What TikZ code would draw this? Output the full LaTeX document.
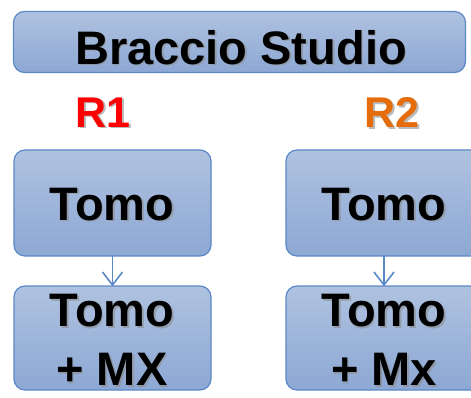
\documentclass[tikz,border=0pt]{standalone}
\usepackage{fontspec}
\setmainfont{Liberation Sans}
\usetikzlibrary{arrows.meta,shadings}
\definecolor{boxtop}{HTML}{AFC2E0}
\definecolor{boxbot}{HTML}{8DA8D4}
\definecolor{boxline}{HTML}{5B88C6}
\definecolor{rred}{HTML}{FF0000}
\definecolor{rorange}{HTML}{E46C0A}
\tikzset{
  panel/.style={draw=boxline, line width=1.2pt, rounded corners=11pt, top color=boxtop, bottom color=boxbot},
  shadowtxt/.style={text=black!45, opacity=0.6, font=\bfseries, inner sep=0pt, align=center},
  maintxt/.style={text=black, font=\bfseries, inner sep=0pt, align=center},
  link/.style={draw=boxline, line width=1.6pt, line join=miter}
}
\begin{document}
\begin{tikzpicture}[x=1pt,y=-1pt]
\useasboundingbox (0,0) rectangle (471,398);
% panels
\path[panel] (13.5,11.5) rectangle (465.5,72.5);
\path[panel] (14,150) rectangle (211,256);
\path[panel] (14,286) rectangle (211,390);
\path[panel] (286,150) rectangle (485,256);
\path[panel] (286,286) rectangle (485,390);
% anchors for connectors
\coordinate (t1) at (112.5,256);
\coordinate (b1) at (112.5,285);
\coordinate (t2) at (384,256);
\coordinate (b2) at (384,285);
\draw[link] (t1) -- (b1);
\draw[link] (b1) ++(-10,-13) -- (b1) -- ++(10,-13);
\draw[link] (t2) -- (b2);
\draw[link] (b2) ++(-10,-13) -- (b2) -- ++(10,-13);
% title
\node[shadowtxt, font=\fontsize{47}{52}\selectfont\bfseries] (titleS) at (242.5,49) {Braccio Studio};
\node[maintxt, font=\fontsize{47}{52}\selectfont\bfseries] (title) at (241,47.5) {Braccio Studio};
% R labels
\node[shadowtxt, font=\fontsize{43}{48}\selectfont\bfseries] (r1S) at (104.5,114) {R1};
\node[maintxt, text=rred, font=\fontsize{43}{48}\selectfont\bfseries] (r1) at (103,112.5) {R1};
\node[shadowtxt, font=\fontsize{43}{48}\selectfont\bfseries] (r2S) at (393.5,114) {R2};
\node[maintxt, text=rorange, font=\fontsize{43}{48}\selectfont\bfseries] (r2) at (392,112.5) {R2};
% Tomo boxes
\node[shadowtxt, font=\fontsize{47}{59}\selectfont\bfseries] (a1S) at (113.5,206) {Tomo};
\node[maintxt, font=\fontsize{47}{59}\selectfont\bfseries] (a1) at (112,204.5) {Tomo};
\node[shadowtxt, font=\fontsize{47}{59}\selectfont\bfseries] (a2S) at (385.5,206) {Tomo};
\node[maintxt, font=\fontsize{47}{59}\selectfont\bfseries] (a2) at (384,204.5) {Tomo};
% bottom boxes
\node[shadowtxt, font=\fontsize{47}{59}\selectfont\bfseries] (c1S) at (113.5,341.5) {Tomo\\+ MX};
\node[maintxt, font=\fontsize{47}{59}\selectfont\bfseries] (c1) at (112,340) {Tomo\\+ MX};
\node[shadowtxt, font=\fontsize{47}{59}\selectfont\bfseries] (c2S) at (385.5,341.5) {Tomo\\+ Mx};
\node[maintxt, font=\fontsize{47}{59}\selectfont\bfseries] (c2) at (384,340) {Tomo\\+ Mx};
\end{tikzpicture}
\end{document}
